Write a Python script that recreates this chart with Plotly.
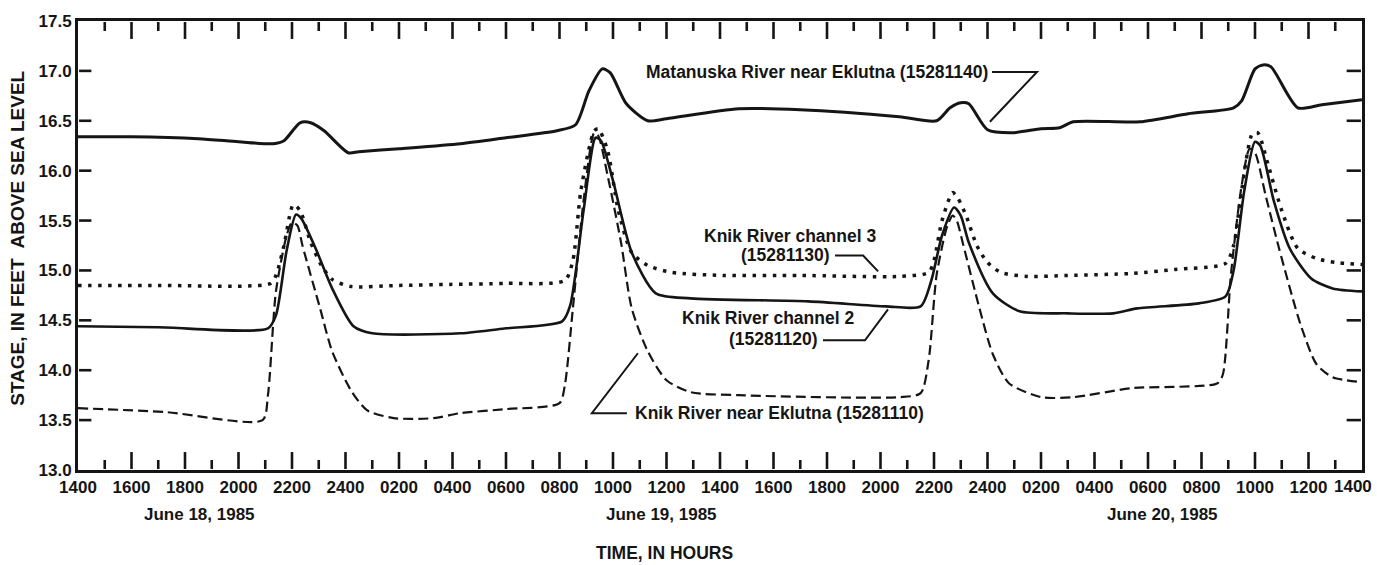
import plotly.graph_objects as go

# hours since 1400 June 18, 1985
mat_t = [0, 2, 4.5, 6, 7.3, 7.7, 8.3, 8.7, 9.2, 10.1, 10.5, 12, 14.3, 16, 17.9, 18.6, 19.1, 19.6, 19.9,
         20.5, 21.3, 22, 24.7, 27, 30.7, 32.1, 32.6, 33.0, 33.3, 34.0, 34.9, 36, 36.7, 37.2, 39.7, 41.5,
         43.2, 43.5, 44.0, 44.3, 44.6, 45.6, 46.5, 48]
mat_v = [16.34, 16.34, 16.32, 16.29, 16.27, 16.30, 16.48, 16.48, 16.40, 16.18, 16.19, 16.22, 16.27, 16.33,
         16.40, 16.46, 16.80, 17.02, 16.98, 16.67, 16.50, 16.52, 16.62, 16.61, 16.54, 16.50, 16.63, 16.68,
         16.67, 16.41, 16.38, 16.42, 16.43, 16.49, 16.49, 16.57, 16.63, 16.70, 17.02, 17.06, 17.04, 16.63,
         16.66, 16.71]

ch3_t = [0, 3, 7.2, 7.4, 7.7, 8.05, 8.3, 8.7, 9.1, 9.5, 10.2, 12, 13.9, 16, 18.2, 18.5, 18.8, 19.3, 19.45,
         19.8, 20.2, 20.7, 21.3, 22.2, 24.1, 27, 30.7, 31.8, 32.0, 32.3, 32.7, 32.9, 33.2, 33.6, 34.0, 34.5,
         35.5, 37, 39.4, 41, 42.9, 43.2, 43.5, 43.9, 44.1, 44.5, 45.0, 45.6, 46.3, 47, 48]
ch3_v = [14.85, 14.85, 14.87, 14.95, 15.25, 15.66, 15.60, 15.28, 15.05, 14.91, 14.84, 14.85, 14.86, 14.87,
         14.90, 15.10, 15.80, 16.40, 16.42, 16.20, 15.60, 15.18, 15.05, 14.98, 14.95, 14.95, 14.94, 14.98,
         15.10, 15.50, 15.78, 15.72, 15.55, 15.25, 15.08, 14.98, 14.94, 14.95, 14.97, 15.01, 15.07, 15.25,
         15.80, 16.37, 16.38, 16.05, 15.60, 15.22, 15.12, 15.08, 15.06]

ch2_t = [0, 3, 7.1, 7.4, 7.8, 8.15, 8.35, 8.9, 9.5, 10.3, 11.0, 14.3, 16, 18.1, 18.4, 18.9, 19.35, 19.55,
         20.0, 20.7, 21.6, 22.9, 27.3, 30.2, 31.5, 31.9, 32.3, 32.75, 33.0, 33.3, 34.2, 35.2, 37.0, 38.7,
         39.6, 41.9, 42.9, 43.2, 43.6, 44.0, 44.2, 44.7, 45.3, 46.1, 46.9, 48]
ch2_v = [14.44, 14.43, 14.42, 14.55, 15.20, 15.56, 15.52, 15.21, 14.82, 14.44, 14.37, 14.37, 14.42, 14.49,
         14.65, 15.60, 16.33, 16.30, 15.90, 15.18, 14.77, 14.72, 14.69, 14.64, 14.64, 14.90, 15.35, 15.63,
         15.55, 15.28, 14.77, 14.59, 14.57, 14.57, 14.62, 14.67, 14.74, 15.00, 15.80, 16.29, 16.25, 15.70,
         15.22, 14.92, 14.82, 14.79]

ek_t = [0, 3.3, 6.9, 7.1, 7.4, 7.8, 8.0, 8.2, 8.4, 9.05, 9.5, 10.2, 10.8, 11.8, 13.3, 14.3, 16, 18.0, 18.2,
        18.5, 18.9, 19.3, 19.45, 19.8, 20.3, 20.7, 21.3, 22.0, 22.9, 24.7, 30.7, 31.5, 31.8, 32.1, 32.5,
        32.7, 32.85, 33.1, 33.7, 34.2, 34.8, 36.0, 37.2, 39.4, 42.6, 42.8, 43.1, 43.5, 43.8, 44.0, 44.4,
        44.9, 45.7, 46.3, 46.9, 48]
ek_v = [13.62, 13.58, 13.50, 13.75, 14.79, 15.35, 15.48, 15.45, 15.24, 14.62, 14.19, 13.80, 13.60, 13.52,
        13.52, 13.57, 13.61, 13.67, 13.85, 14.62, 15.70, 16.38, 16.35, 15.95, 15.28, 14.62, 14.19, 13.90,
        13.78, 13.75, 13.73, 13.77, 14.10, 14.96, 15.45, 15.55, 15.50, 15.25, 14.62, 14.16, 13.87, 13.73,
        13.73, 13.82, 13.87, 13.96, 14.96, 15.85, 16.22, 16.18, 15.75, 15.22, 14.46, 14.06, 13.93, 13.88]

x_tickvals = list(range(0, 49, 2))
x_ticktext = ["1400", "1600", "1800", "2000", "2200", "2400", "0200", "0400", "0600", "0800", "1000",
              "1200", "1400", "1600", "1800", "2000", "2200", "2400", "0200", "0400", "0600", "0800",
              "1000", "1200", "1400"]
x_minor = list(range(1, 48, 2))
y_tickvals = [13.0, 13.5, 14.0, 14.5, 15.0, 15.5, 16.0, 16.5, 17.0, 17.5]
y_ticktext = ["13.0", "13.5", "14.0", "14.5", "15.0", "15.5", "16.0", "16.5", "17.0", "17.5"]

X0, X1 = 0, 48
Y0, Y1 = 13.0, 17.5

FONT = "Liberation Sans, Arial, sans-serif"
INK = "#151515"

fig = go.Figure()

fig.add_trace(go.Scatter(x=mat_t, y=mat_v, mode="lines", line=dict(color=INK, width=3, shape="spline", smoothing=0.7),
                         name="Matanuska River near Eklutna (15281140)"))
fig.add_trace(go.Scatter(x=ch3_t, y=ch3_v, mode="lines", line=dict(color=INK, width=3.5, dash="3.5px,6.5px", shape="spline", smoothing=0.7),
                         name="Knik River channel 3 (15281130)"))
fig.add_trace(go.Scatter(x=ch2_t, y=ch2_v, mode="lines", line=dict(color=INK, width=2.6, shape="spline", smoothing=0.7),
                         name="Knik River channel 2 (15281120)"))
fig.add_trace(go.Scatter(x=ek_t, y=ek_v, mode="lines", line=dict(color=INK, width=2.2, dash="10px,5px", shape="spline", smoothing=0.7),
                         name="Knik River near Eklutna (15281110)"))

# frame tick marks (inside, on all four sides); start just inside the frame line
MAJ, MIN_, YT = 0.18, 0.10, 0.5
EPS_Y, EPS_X = 0.01, 0.04
tx, ty = [], []
for tv in x_tickvals[1:-1]:
    tx += [tv, tv, None, tv, tv, None]
    ty += [Y0 + EPS_Y, Y0 + MAJ, None, Y1 - EPS_Y, Y1 - MAJ, None]
for tv in x_minor:
    tx += [tv, tv, None, tv, tv, None]
    ty += [Y0 + EPS_Y, Y0 + MIN_, None, Y1 - EPS_Y, Y1 - MIN_, None]
for tv in y_tickvals[1:-1]:
    tx += [X0 + EPS_X, X0 + YT, None, X1 - EPS_X, X1 - YT * 1.15, None]
    ty += [tv, tv, None, tv, tv, None]
fig.add_trace(go.Scatter(x=tx, y=ty, mode="lines", line=dict(color=INK, width=2.6), connectgaps=False,
                         hoverinfo="skip", showlegend=False))

lab_font = dict(family=FONT, size=17.5, color=INK)
ann = [
    dict(x=34.09, y=16.99, text="<b>Matanuska River near Eklutna (15281140)</b>", xanchor="right"),
    dict(x=26.62, y=15.35, text="<b>Knik River channel 3</b>", xanchor="center"),
    dict(x=28.19, y=15.15, text="<b>(15281130)</b>", xanchor="right"),
    dict(x=25.79, y=14.52, text="<b>Knik River channel 2</b>", xanchor="center"),
    dict(x=27.74, y=14.31, text="<b>(15281120)</b>", xanchor="right"),
    dict(x=20.75, y=13.57, text="<b>Knik River near Eklutna (15281110)</b>", xanchor="left"),
]
for a in ann:
    fig.add_annotation(xref="x", yref="y", showarrow=False, yanchor="middle", font=lab_font, **a)

leaders = [
    [(34.17, 16.99), (35.85, 16.99), (34.09, 16.49)],
    [(28.30, 15.15), (29.35, 15.15), (29.91, 14.99)],
    [(27.85, 14.30), (29.42, 14.30), (30.28, 14.61)],
    [(20.52, 13.57), (19.21, 13.57), (20.93, 14.17)],
]
for pts in leaders:
    path = "M " + " L ".join(f"{px},{py}" for px, py in pts)
    fig.add_shape(type="path", path=path, xref="x", yref="y", line=dict(color=INK, width=2))

date_labels = [(4.56, "June 18, 1985"), (21.83, "June 19, 1985"), (40.56, "June 20, 1985")]
for dx, dtxt in date_labels:
    fig.add_annotation(x=dx, y=-0.10, xref="x", yref="paper", text=f"<b>{dtxt}</b>", showarrow=False,
                       yanchor="middle", font=dict(family=FONT, size=17, color=INK))
fig.add_annotation(x=0.4565, y=-0.185, xref="paper", yref="paper", text="<b>TIME, IN HOURS</b>", showarrow=False,
                   yanchor="middle", font=dict(family=FONT, size=17.5, color=INK))
fig.add_annotation(x=-0.0467, y=0.515, xref="paper", yref="paper", text="<b>STAGE, IN FEET  ABOVE SEA LEVEL</b>",
                   showarrow=False, textangle=-90, xanchor="center", yanchor="middle",
                   font=dict(family=FONT, size=19, color=INK))
fig.add_annotation(x=x_tickvals[-1], y=0, xref="x", yref="paper", yshift=-5, text=f"<b>{x_ticktext[-1]}</b>",
                   showarrow=False, xanchor="right", yanchor="top", xshift=12,
                   font=dict(family=FONT, size=17, color=INK))

fig.update_xaxes(range=[X0, X1], tickmode="array", tickvals=x_tickvals[:-1],
                 ticktext=[f"<b>{t}</b>" for t in x_ticktext[:-1]],
                 ticks="", showline=True, linewidth=3, linecolor=INK, mirror=True, showgrid=False, zeroline=False,
                 tickfont=dict(family=FONT, size=17, color=INK))
fig.update_yaxes(range=[Y0, Y1], tickmode="array", tickvals=y_tickvals,
                 ticktext=[f"<b>{t}</b>" for t in y_ticktext],
                 ticks="", showline=True, linewidth=3, linecolor=INK, mirror=True, showgrid=False, zeroline=False,
                 tickfont=dict(family=FONT, size=17, color=INK))

fig.update_layout(width=1377, height=565, margin=dict(l=78, r=15, t=16, b=95),
                  paper_bgcolor="white", plot_bgcolor="white", showlegend=False,
                  font=dict(family=FONT, color=INK))

fig.write_html("out.html")
